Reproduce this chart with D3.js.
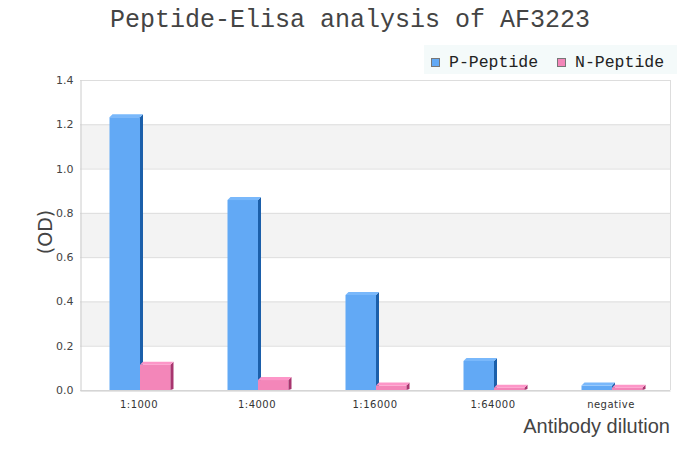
<!DOCTYPE html>
<html>
<head>
<meta charset="utf-8">
<script src="https://cdn.jsdelivr.net/npm/d3@7"></script>
<style>
  body { margin: 0; background: #fff; }
  svg { display: block; }
</style>
</head>
<body>
<svg id="chart"></svg>
<script>
const categories = ['1:1000', '1:4000', '1:16000', '1:64000', 'negative'];
const seriesNames = ['P-Peptide', 'N-Peptide'];
const pPeptide = [1.232, 0.858, 0.429, 0.131, 0.02];
const nPeptide = [0.114, 0.045, 0.02, 0.01, 0.01];
const yTicks = [0, 0.2, 0.4, 0.6, 0.8, 1.0, 1.2, 1.4];

const width = 700, height = 450;
const margin = {top: 80, right: 30, bottom: 60, left: 80};
const depth = 3;
const colors = [
    {front: '#62a9f5', side: '#1b5faa', top: '#79b8fb'},
    {front: '#f386b9', side: '#a8356f', top: '#fd96c8'}
];

const svg = d3.select('#chart')
    .attr('width', width)
    .attr('height', height);

const x = d3.scaleBand()
    .domain(categories)
    .range([margin.left, width - margin.right]);

const y = d3.scaleLinear()
    .domain([0, 1.4])
    .range([height - margin.bottom, margin.top]);

const barW = 30.5;
const inner = d3.scaleBand()
    .domain(seriesNames)
    .range([0, barW * 2]);

// alternating bands
for (let i = 0; i < yTicks.length - 1; i++) {
    if (i % 2 === 1) {
        svg.append('rect')
            .attr('x', margin.left)
            .attr('y', y(yTicks[i + 1]))
            .attr('width', width - margin.right - margin.left)
            .attr('height', y(yTicks[i]) - y(yTicks[i + 1]))
            .attr('fill', '#f3f3f3');
    }
}

// grid lines
svg.append('g')
    .selectAll('line')
    .data(yTicks)
    .join('line')
    .attr('x1', margin.left)
    .attr('x2', width - margin.right)
    .attr('y1', d => y(d) + 0.5)
    .attr('y2', d => y(d) + 0.5)
    .attr('stroke', '#dddddd');

// right border
svg.append('line')
    .attr('x1', width - margin.right + 0.5)
    .attr('x2', width - margin.right + 0.5)
    .attr('y1', margin.top)
    .attr('y2', height - margin.bottom)
    .attr('stroke', '#dddddd');

// y axis
const yAxis = d3.axisLeft(y)
    .tickValues(yTicks)
    .tickFormat(d3.format('.1f'))
    .tickSize(0)
    .tickPadding(7);

const yg = svg.append('g')
    .attr('transform', `translate(${margin.left + 0.5},0)`)
    .call(yAxis);
yg.select('.domain').attr('stroke', '#cccccc');
yg.selectAll('text')
    .attr('font-family', 'DejaVu Sans, sans-serif')
    .attr('font-size', 11)
    .attr('fill', '#444');

// x axis
const xAxis = d3.axisBottom(x)
    .tickSize(0)
    .tickPadding(10);

const xg = svg.append('g')
    .attr('transform', `translate(0,${height - margin.bottom + 0.5})`)
    .call(xAxis);
xg.select('.domain').attr('stroke', '#cccccc');
xg.selectAll('text')
    .attr('font-family', 'DejaVu Sans, sans-serif')
    .attr('font-size', 10)
    .attr('fill', '#333')
    .attr('letter-spacing', 0.5);

// bars
const series = [pPeptide, nPeptide];
const base = y(0);
series.forEach((values, si) => {
    const c = colors[si];
    const g = svg.append('g');
    values.forEach((v, i) => {
        const x0 = x(categories[i]) + x.bandwidth() / 2 - barW + 1 + inner(seriesNames[si]);
        const y0 = y(v);
        const w = inner.bandwidth();
        g.append('rect')
            .attr('x', x0)
            .attr('y', y0)
            .attr('width', w)
            .attr('height', base - y0)
            .attr('fill', c.front);
        g.append('polygon')
            .attr('points', [[x0 + w, y0], [x0 + w + depth, y0 - depth], [x0 + w + depth, base - 1], [x0 + w, base]].join(' '))
            .attr('fill', c.side);
        g.append('polygon')
            .attr('points', [[x0, y0], [x0 + depth, y0 - depth], [x0 + w + depth, y0 - depth], [x0 + w, y0]].join(' '))
            .attr('fill', c.top);
    });
});

// title
svg.append('text')
    .attr('x', 350)
    .attr('y', 27)
    .attr('text-anchor', 'middle')
    .attr('font-family', 'Liberation Mono, monospace')
    .attr('font-size', 25)
    .attr('fill', '#444')
    .text('Peptide-Elisa analysis of AF3223');

// legend
const legend = svg.append('g');
legend.append('rect')
    .attr('x', 424)
    .attr('y', 45)
    .attr('width', 253)
    .attr('height', 29)
    .attr('fill', '#f4fafa');
const legendX = [431, 557];
seriesNames.forEach((name, i) => {
    legend.append('rect')
        .attr('x', legendX[i] + 0.5)
        .attr('y', 58.5)
        .attr('width', 8)
        .attr('height', 8)
        .attr('fill', colors[i].front)
        .attr('stroke', '#777');
    legend.append('text')
        .attr('x', legendX[i] + 18)
        .attr('y', 67)
        .attr('font-family', 'Liberation Mono, monospace')
        .attr('font-size', 16.5)
        .attr('fill', '#222')
        .text(name);
});

// axis titles
svg.append('text')
    .attr('transform', `translate(52,232) rotate(-90)`)
    .attr('text-anchor', 'middle')
    .attr('font-family', 'DejaVu Sans, sans-serif')
    .attr('font-size', 19)
    .attr('fill', '#444')
    .text('(OD)');

svg.append('text')
    .attr('x', 670)
    .attr('y', 433)
    .attr('text-anchor', 'end')
    .attr('font-family', 'Liberation Sans, Arial, sans-serif')
    .attr('font-size', 20)
    .attr('fill', '#444')
    .text('Antibody dilution');
</script>
</body>
</html>
